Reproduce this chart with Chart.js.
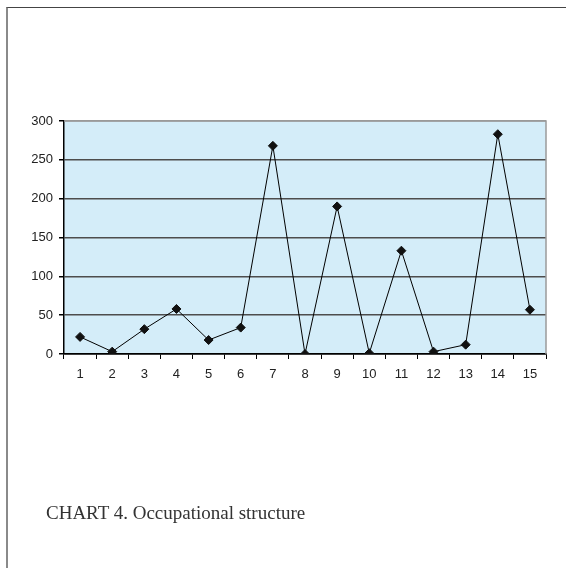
<!DOCTYPE html>
<html>
<head>
<meta charset="utf-8">
<script src="https://cdn.jsdelivr.net/npm/chart.js@4"></script>
<style>
  html, body { margin: 0; padding: 0; background: #fff; }
  #wrap { position: relative; width: 566px; height: 568px; overflow: hidden; }
  #frame { position: absolute; left: 6px; top: 7px; width: 600px; height: 600px;
           border-top: 1px solid #444; border-left: 2px solid #8a8a8a; }
  #chart { position: absolute; left: 0; top: 0; }
  #caption { position: absolute; left: 46px; top: 502px; font-family: "Liberation Serif", "DejaVu Serif", serif;
             font-size: 19px; color: #333; white-space: nowrap; }
</style>
</head>
<body>
<div id="wrap">
  <div id="frame"></div>
  <canvas id="chart" width="566" height="568"></canvas>
  <div id="caption">CHART 4. Occupational structure</div>
</div>
<script>
// categories and values
const labels = ['1','2','3','4','5','6','7','8','9','10','11','12','13','14','15'];
const values = [22, 3, 32, 58, 18, 34, 268, 0, 190, 1, 133, 3, 12, 283, 57];

// light blue plot background plus grey top/right border
const plotBox = {
  id: 'plotBox',
  beforeDraw: (chart) => {
    const a = chart.chartArea;
    const ctx = chart.ctx;
    ctx.save();
    ctx.fillStyle = '#d4edf9';
    ctx.fillRect(a.left, a.top, a.right - a.left, a.bottom - a.top);
    ctx.restore();
  },
  afterDraw: (chart) => {
    const a = chart.chartArea;
    const ctx = chart.ctx;
    ctx.save();
    ctx.strokeStyle = '#9a9a9a';
    ctx.lineWidth = 1.5;
    ctx.beginPath();
    ctx.moveTo(a.left, a.top);
    ctx.lineTo(a.right, a.top);
    ctx.lineTo(a.right, a.bottom);
    ctx.stroke();
    ctx.restore();
  }
};

const tickFont = { family: 'Liberation Sans, Arial, sans-serif', size: 13 };

new Chart(document.getElementById('chart'), {
  type: 'line',
  data: {
    labels: labels,
    datasets: [{
      data: values,
      borderColor: '#000',
      borderWidth: 1,
      pointStyle: 'rectRot',
      pointRadius: 4.5,
      pointBackgroundColor: '#111',
      pointBorderColor: '#111',
      tension: 0
    }]
  },
  options: {
    responsive: false,
    animation: false,
    layout: { padding: { left: 0, top: 121, right: 20, bottom: 174 } },
    plugins: { legend: { display: false }, tooltip: { enabled: false } },
    scales: {
      x: {
        offset: true,
        grid: { offset: true, drawOnChartArea: false, tickLength: 5, color: '#000', tickColor: '#000' },
        border: { color: '#000', width: 1.5 },
        ticks: { font: tickFont, color: '#222', padding: 8, maxRotation: 0 },
        afterFit: (s) => { s.height = 40; }
      },
      y: {
        min: 0,
        max: 300,
        grid: {
          tickLength: 5,
          tickColor: '#000',
          color: (c) => c.tick.value === 0 ? '#000' : (c.tick.value === 300 ? '#9a9a9a' : '#4d4d4d'),
          lineWidth: 1.5
        },
        border: { color: '#000', width: 1.5 },
        ticks: { stepSize: 50, font: tickFont, color: '#222', padding: 6 },
        afterFit: (s) => { s.width = 64; }
      }
    }
  },
  plugins: [plotBox]
});
</script>
</body>
</html>
